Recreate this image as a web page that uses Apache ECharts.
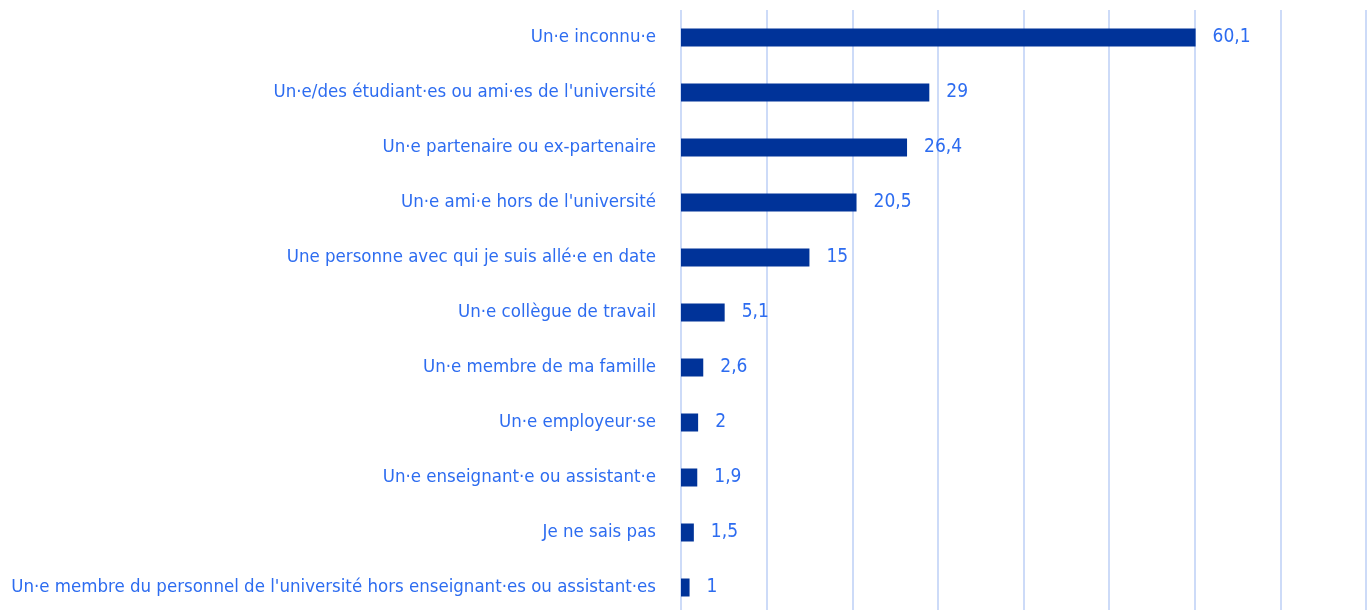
<!DOCTYPE html>
<html>
<head>
<meta charset="utf-8">
<script src="https://cdn.jsdelivr.net/npm/echarts@6/dist/echarts.min.js"></script>
<style>
  html, body { margin: 0; padding: 0; background: #fff; }
  #chart { width: 1370px; height: 610px; }
</style>
</head>
<body>
<div id="chart"></div>
<script>
// categories, top to bottom
const categories = [
  "Un·e inconnu·e",
  "Un·e/des étudiant·es ou ami·es de l'université",
  "Un·e partenaire ou ex-partenaire",
  "Un·e ami·e hors de l'université",
  "Une personne avec qui je suis allé·e en date",
  "Un·e collègue de travail",
  "Un·e membre de ma famille",
  "Un·e employeur·se",
  "Un·e enseignant·e ou assistant·e",
  "Je ne sais pas",
  "Un·e membre du personnel de l'université hors enseignant·es ou assistant·es"
];
const values = [60.1, 29, 26.4, 20.5, 15, 5.1, 2.6, 2, 1.9, 1.5, 1];

const textColor = '#2d6cf0';
const fontFam = '"DejaVu Sans Condensed", "DejaVu Sans", sans-serif';

const chart = echarts.init(document.getElementById('chart'));
chart.setOption({
  animation: false,
  grid: { left: 681, right: 4, top: 10, bottom: -5, outerBoundsMode: 'none', containLabel: false },
  xAxis: {
    type: 'value',
    min: 0,
    max: 80,
    interval: 10,
    axisLabel: { show: false },
    axisLine: { show: false },
    axisTick: { show: false },
    splitLine: { show: true, lineStyle: { color: '#cddbf8', width: 2 } }
  },
  yAxis: {
    type: 'category',
    inverse: true,
    data: categories,
    axisLine: { show: false },
    axisTick: { show: false },
    axisLabel: {
      color: textColor,
      fontSize: 18.5,
      fontFamily: fontFam,
      margin: 25
    }
  },
  series: [{
    type: 'bar',
    data: values,
    barWidth: 18,
    itemStyle: { color: '#003399' },
    label: {
      show: true,
      position: 'right',
      distance: 17,
      color: textColor,
      fontSize: 19,
      fontFamily: fontFam,
      formatter: p => String(p.value).replace('.', ',')
    }
  }]
});
</script>
</body>
</html>
